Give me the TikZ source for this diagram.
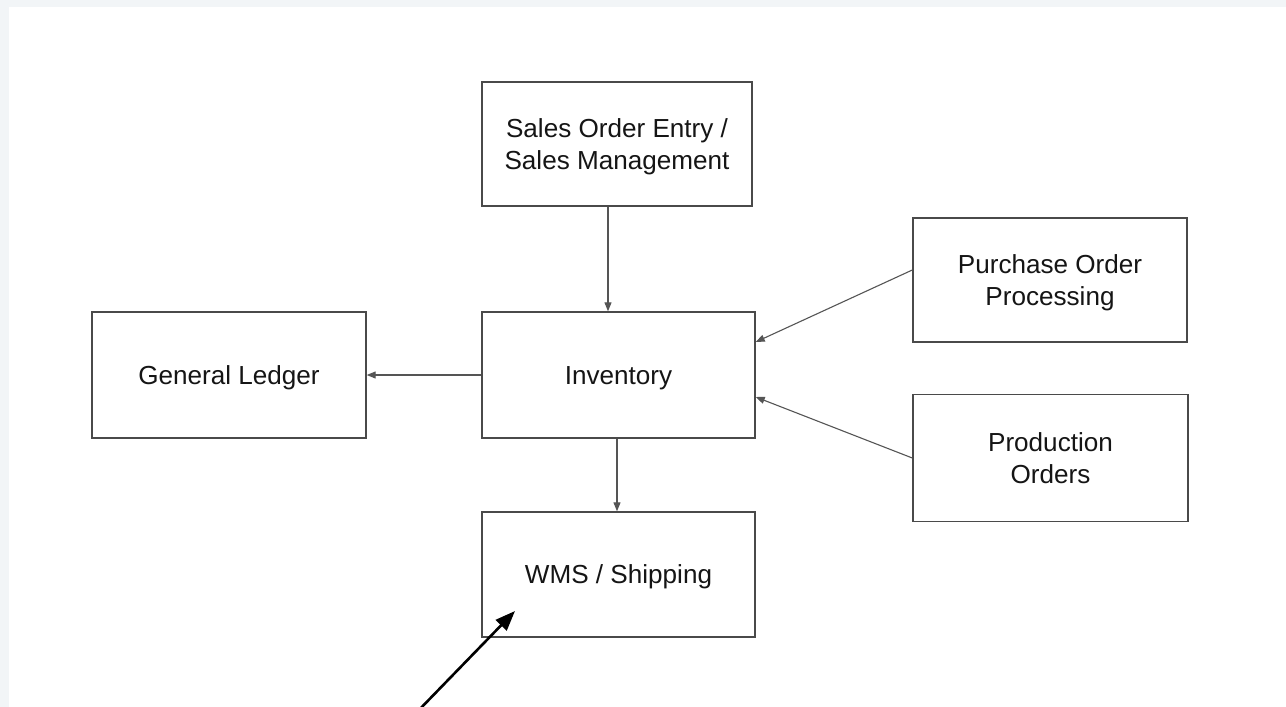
\documentclass[tikz,border=0pt]{standalone}
\usepackage{fontspec}
\setmainfont{Liberation Sans}
\usetikzlibrary{arrows.meta}
\definecolor{bgstrip}{HTML}{F2F5F7}
\definecolor{boxline}{HTML}{4A4A4A}
\definecolor{connline}{HTML}{555555}
\definecolor{txt}{HTML}{151515}
\begin{document}
\begin{tikzpicture}[x=1pt,y=-1pt,
  blk/.style={draw=boxline,line width=1.4pt,fill=white,rectangle,inner sep=0pt,
    align=center,text=txt,font=\fontsize{26.1}{32}\selectfont,text depth=0pt},
  oneline/.style={blk,text height=18.7pt},
  twoline/.style={blk,text height=50.7pt},
  conn/.style={draw=connline,line width=1.1pt,-{Triangle[length=9pt,width=7pt]}},
  bigarrow/.style={draw=black,line width=2.6pt,-{Triangle[length=20pt,width=15pt]}}]
\useasboundingbox (0,0) rectangle (1286,707);
\fill[white] (0,0) rectangle (1286,707);
\fill[bgstrip] (0,0) rectangle (1286,7);
\fill[bgstrip] (0,0) rectangle (9,707);

\node[twoline,minimum width=270pt,minimum height=124pt] (sales) at (617,144) {Sales Order Entry /\\Sales Management};
\node[oneline,minimum width=273pt,minimum height=126pt] (inv) at (618.5,375) {Inventory};
\node[oneline,minimum width=274pt,minimum height=126pt] (gl) at (229,375) {General Ledger};
\node[twoline,minimum width=274pt,minimum height=124pt] (po) at (1050,280) {Purchase Order\\Processing};
\node[twoline,minimum width=275pt,minimum height=127pt] (prod) at (1050.5,458) {Production\\Orders};
\node[oneline,minimum width=273pt,minimum height=125pt] (wms) at (618.5,574.5) {WMS / Shipping};

\draw[conn] ([xshift=-9pt]sales.south) -- ([xshift=-9pt]sales.south |- inv.north);
\draw[conn] ([xshift=-1.5pt]inv.south) -- ([xshift=-1.5pt]inv.south |- wms.north);
\draw[conn] (inv.west) -- (gl.east);
\draw[conn] ([yshift=10pt]po.west) -- ([yshift=33pt]inv.east);
\draw[conn] (prod.west) -- ([yshift=-22pt]inv.east);

\coordinate (tail) at (417,712);
\coordinate (tip) at (515,611);
\draw[bigarrow] (tail) -- (tip);
\end{tikzpicture}
\end{document}
